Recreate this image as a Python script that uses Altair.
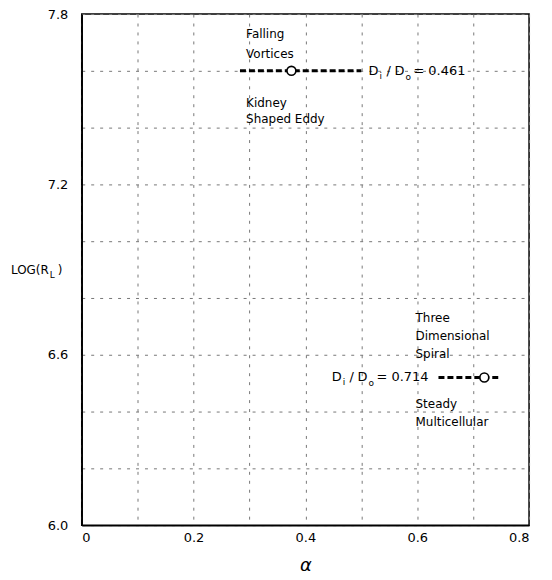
import altair as alt
import pandas as pd

# data
ratios = ["0.461", "0.714"]
alpha_center = [0.375, 0.72]
alpha_lo = [0.283, 0.638]
alpha_hi = [0.50, 0.75]
log_rl = [7.60, 6.52]

ann_text = ["Falling", "Vortices", "Kidney", "Shaped Eddy",
            "Three", "Dimensional", "Spiral", "Steady", "Multicellular"]
ann_x = [0.294, 0.294, 0.294, 0.294, 0.597, 0.597, 0.597, 0.597, 0.597]
ann_y = [7.73, 7.66, 7.485, 7.43, 6.73, 6.667, 6.604, 6.425, 6.362]

ratio_label_x = [0.513, 0.447]

x_ticks = [0, 0.1, 0.2, 0.3, 0.4, 0.5, 0.6, 0.7, 0.8]
y_ticks = [6.0, 6.2, 6.4, 6.6, 6.8, 7.0, 7.2, 7.4, 7.6, 7.8]

df = pd.DataFrame({"ratio": ratios, "a": alpha_center, "lo": alpha_lo,
                   "hi": alpha_hi, "y": log_rl,
                   "lx": ratio_label_x,
                   "val": ["= " + r for r in ratios]})
ann = pd.DataFrame({"t": ann_text, "x": ann_x, "y": ann_y})

FONT = "DejaVu Sans"

xs = alt.Scale(domain=[0, 0.8], nice=False, zero=False)
ys = alt.Scale(domain=[6.0, 7.8], nice=False, zero=False)

xaxis = alt.Axis(values=x_ticks, title="\u03b1", titleFontSize=18, titleFontWeight="normal",
                 titleFont=FONT, titlePadding=13, titleFontStyle="italic",
                 labelExpr="datum.value == 0 ? '0' : (abs(round(datum.value*10) % 2) < 0.01 ? format(datum.value, '.1f') : '')",
                 labelFont=FONT, labelFontSize=13, labelPadding=6, labelColor="black",
                 ticks=False, domainColor="black", domainWidth=1.5,
                 grid=True, gridColor="#777", gridDash=[3, 6], gridWidth=1)
yaxis = alt.Axis(values=y_ticks, title=None,
                 labelExpr="abs(round(datum.value*10) % 6) < 0.01 ? format(datum.value, '.1f') : ''",
                 labelFont=FONT, labelFontSize=13, labelPadding=14, labelColor="black",
                 ticks=False, domainColor="black", domainWidth=1.5,
                 grid=True, gridColor="#777", gridDash=[3, 6], gridWidth=1)

base = alt.Chart(df)

lines = base.mark_rule(color="black", strokeWidth=3, strokeDash=[6, 3]).encode(
    x=alt.X("lo:Q", scale=xs, axis=xaxis),
    x2="hi:Q",
    y=alt.Y("y:Q", scale=ys, axis=yaxis),
)

pts = base.mark_point(shape="circle", size=80, filled=True, fill="white",
                      stroke="black", strokeWidth=1.6, opacity=1).encode(
    x=alt.X("a:Q", scale=xs),
    y=alt.Y("y:Q", scale=ys),
)

anns = alt.Chart(ann).mark_text(align="left", baseline="middle", font=FONT,
                                fontSize=12, color="black").encode(
    x=alt.X("x:Q", scale=xs), y=alt.Y("y:Q", scale=ys), text="t:N")


def piece(txt, dx, dy, fs, field=None):
    enc = dict(x=alt.X("lx:Q", scale=xs), y=alt.Y("y:Q", scale=ys))
    enc["text"] = alt.Text(field) if field else alt.value(txt)
    return base.mark_text(align="left", baseline="middle", font=FONT, fontSize=fs,
                          color="black", dx=dx, dy=dy).encode(**enc)


ratio_pieces = [
    piece("D", 0, 0, 13),
    piece("i", 11, 5, 9),
    piece("/", 18, 0, 13),
    piece("D", 26, 0, 13),
    piece("o", 37, 6, 9),
    piece(None, 45, 0, 13, field="val:N"),
]

# y-axis title with subscript L
ytitle = pd.DataFrame({"t": ["LOG(R"]})
yt1 = alt.Chart(ytitle).mark_text(
    align="left", baseline="middle", font=FONT, fontSize=12, color="black").encode(
    x=alt.value(-71), y=alt.value(257), text=alt.value("LOG(R"))
yt2 = alt.Chart(ytitle).mark_text(
    align="left", baseline="middle", font=FONT, fontSize=9, color="black").encode(
    x=alt.value(-32), y=alt.value(262), text=alt.value("L"))
yt3 = alt.Chart(ytitle).mark_text(
    align="left", baseline="middle", font=FONT, fontSize=12, color="black").encode(
    x=alt.value(-24), y=alt.value(257), text=alt.value(")"))

chart = alt.layer(lines, pts, anns, *ratio_pieces, yt1, yt2, yt3).properties(
    width=449, height=513,
    autosize=alt.AutoSizeParams(type="none"),
    padding={"left": 74, "top": 5, "right": 15, "bottom": 50},
    background="white",
).configure_view(stroke="black", strokeWidth=1.5)

chart.save("out.html", embed_options={"renderer": "svg", "actions": False})
